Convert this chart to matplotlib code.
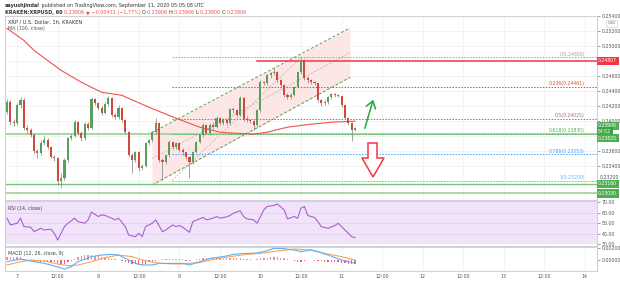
import matplotlib
matplotlib.use('Agg')
import matplotlib.pyplot as plt
from matplotlib.patches import Polygon
import matplotlib.transforms as mtransforms

# hourly candles, index 0 = Sep 6 21:00 UTC; open of each candle = previous close
first_open = 0.24117
closes = [0.2425, 0.23983, 0.2397, 0.2421, 0.24277, 0.23903, 0.23877, 0.2381, 0.23597, 0.2357,
          0.23703, 0.23743, 0.2365, 0.23517, 0.23503, 0.23197, 0.23237, 0.23477, 0.2377, 0.23797,
          0.23983, 0.23837, 0.2377, 0.23957, 0.23903, 0.2429, 0.24237, 0.2417, 0.24103, 0.24223,
          0.24303, 0.24077, 0.2405, 0.2417, 0.2401, 0.2385, 0.23543, 0.23477, 0.23583, 0.2337,
          0.23397, 0.23703, 0.23743, 0.2385, 0.2397, 0.23477, 0.2345, 0.23543, 0.23717, 0.2365,
          0.23703, 0.2361, 0.23583, 0.23517, 0.2345, 0.23583, 0.23717, 0.2381, 0.23943, 0.23837,
          0.23943, 0.23917, 0.24037, 0.2397, 0.2401, 0.2397, 0.24157, 0.24143, 0.24077, 0.24303,
          0.24023, 0.2401, 0.23997, 0.23943, 0.24143, 0.24517, 0.24503, 0.2461, 0.24637, 0.2465,
          0.24543, 0.24477, 0.24343, 0.24317, 0.24343, 0.2445, 0.2465, 0.2481, 0.2457, 0.24543,
          0.24517, 0.24503, 0.24277, 0.24237, 0.2425, 0.24317, 0.24357, 0.24343, 0.2433, 0.2421,
          0.24037, 0.2397, 0.23877, 0.23906]
highs = [0.2430, 0.2428, 0.2403, 0.2424, 0.2432, 0.2431, 0.2395, 0.2391, 0.2384, 0.2363,
         0.2374, 0.2380, 0.2377, 0.2367, 0.2355, 0.2352, 0.2330, 0.2350, 0.2379, 0.2383,
         0.2401, 0.2400, 0.2386, 0.2398, 0.2399, 0.2432, 0.2431, 0.2426, 0.2420, 0.2425,
         0.2434, 0.2432, 0.2411, 0.2421, 0.2419, 0.2403, 0.2387, 0.2357, 0.2360, 0.2360,
         0.2343, 0.2372, 0.2376, 0.2387, 0.2404, 0.2399, 0.2350, 0.2356, 0.2374, 0.2373,
         0.2372, 0.2372, 0.2364, 0.2360, 0.2353, 0.2360, 0.2373, 0.2383, 0.2397, 0.2396,
         0.2397, 0.2398, 0.2406, 0.2405, 0.2404, 0.2403, 0.2418, 0.2419, 0.2416, 0.2433,
         0.2432, 0.2407, 0.2403, 0.2401, 0.2416, 0.2455, 0.2454, 0.2463, 0.2466, 0.2471,
         0.2467, 0.2456, 0.2449, 0.2437, 0.2437, 0.2447, 0.2467, 0.2485, 0.2483, 0.2460,
         0.2456, 0.2453, 0.2451, 0.2429, 0.2428, 0.2434, 0.2437, 0.2437, 0.2436, 0.2434,
         0.2422, 0.2405, 0.2398, 0.2392]
lows = [0.2409, 0.2395, 0.2393, 0.2395, 0.2418, 0.2388, 0.2384, 0.2378, 0.2356, 0.2350,
        0.2355, 0.2368, 0.2362, 0.2350, 0.2347, 0.2315, 0.2310, 0.2321, 0.2345, 0.2375,
        0.2378, 0.2381, 0.2373, 0.2375, 0.2388, 0.2389, 0.2421, 0.2414, 0.2408, 0.2409,
        0.2420, 0.2405, 0.2402, 0.2403, 0.2398, 0.2382, 0.2352, 0.2330, 0.2345, 0.2333,
        0.2334, 0.2338, 0.2368, 0.2372, 0.2383, 0.2345, 0.2321, 0.2342, 0.2352, 0.2362,
        0.2363, 0.2358, 0.2355, 0.2349, 0.2324, 0.2343, 0.2357, 0.2370, 0.2379, 0.2382,
        0.2382, 0.2389, 0.2390, 0.2395, 0.2394, 0.2395, 0.2395, 0.2411, 0.2406, 0.2406,
        0.2400, 0.2399, 0.2397, 0.2388, 0.2392, 0.2412, 0.2448, 0.2448, 0.2458, 0.2461,
        0.2452, 0.2445, 0.2432, 0.2429, 0.2430, 0.2433, 0.2444, 0.2463, 0.2455, 0.2451,
        0.2449, 0.2448, 0.2426, 0.2420, 0.2421, 0.2423, 0.2430, 0.2432, 0.2432, 0.2419,
        0.2402, 0.2395, 0.2373, 0.2386]

# MA (100) read at some candles
ma_idx = [0, 5, 8, 16, 22, 28, 34, 42, 50, 57, 63, 67, 73, 77, 83, 90, 96, 103]
ma_val = [0.25237, 0.25077, 0.24943, 0.24677, 0.24517, 0.24383, 0.24343, 0.24183, 0.24037,
          0.23917, 0.2385, 0.23837, 0.23823, 0.2385, 0.23917, 0.23957, 0.23983, 0.23997]

rsi_idx = [0, 1, 3, 4, 5, 7, 8, 10, 11, 13, 14, 15, 17, 18, 20, 21, 23, 24, 25, 27, 28, 29,
           31, 32, 33, 35, 36, 38, 39, 40, 41, 43, 44, 46, 47, 49, 50, 51, 52, 54, 55, 57,
           58, 59, 61, 62, 63, 65, 66, 67, 69, 70, 71, 73, 74, 76, 77, 79, 80, 82, 83, 85,
           86, 87, 88, 89, 91, 92, 93, 95, 97, 98, 100, 102, 103]
rsi_val = [54.6, 48.2, 49.8, 54.6, 46.6, 46.0, 41.8, 45.0, 43.4, 44.1, 40.2, 33.8, 46.6, 49.8,
           54.6, 51.4, 49.8, 53.0, 60.4, 56.2, 57.8, 57.2, 54.6, 53.0, 54.6, 46.6, 38.6, 37.0,
           40.2, 37.0, 46.6, 49.8, 53.0, 41.8, 43.4, 48.2, 46.6, 47.6, 46.0, 41.2, 51.4, 54.0,
           55.3, 53.0, 54.6, 56.2, 54.6, 55.9, 57.2, 59.4, 61.7, 56.2, 54.0, 53.0, 49.8, 62.6,
           65.8, 66.8, 68.1, 62.6, 54.0, 56.2, 54.6, 64.2, 65.8, 57.2, 55.3, 51.4, 46.6, 45.0,
           47.6, 49.8, 43.4, 37.0, 36.1]

macd_idx = [0, 4, 7, 11, 13, 17, 19, 21, 25, 28, 31, 33, 36, 38, 40, 43, 45, 48, 52, 54, 57,
            60, 64, 67, 70, 73, 76, 79, 81, 85, 87, 90, 92, 95, 99, 101, 103]
macd_val = [-0.00028, 0.00017, -0.00017, -0.00056, -0.00083, -0.0015, -0.00111, -0.00028,
            0.00056, 0.00083, 0.00094, 0.00083, 0.0, -0.00056, -0.00083, -0.00083, -0.00056,
            -0.00056, -0.00056, -0.00083, -0.00028, 0.00028, 0.00056, 0.00094, 0.00111,
            0.00111, 0.00139, 0.00194, 0.00194, 0.00167, 0.00139, 0.00167, 0.00139, 0.00083,
            0.0, -0.00028, -0.00056]
sig_idx = [0, 4, 7, 11, 14, 18, 21, 25, 29, 33, 37, 40, 45, 51, 57, 61, 66, 71, 75, 80, 85,
           90, 94, 99, 103]
sig_val = [-0.00083, -0.00028, 0.0, -0.00017, -0.00056, -0.00094, -0.00083, -0.00028, 0.00039,
           0.00083, 0.00056, 0.0, -0.00056, -0.00067, -0.00044, 0.00011, 0.00056, 0.00094,
           0.00111, 0.0015, 0.00183, 0.00167, 0.00111, 0.00056, 0.0]
hist_val = [0.00055, 0.0005, 0.00048, 0.00046, 0.00045, 0.0002, 0.0, -0.00017, -0.0002, -0.00025,
            -0.0003, -0.0004, -0.0004, -0.0004, -0.0004, -0.0005, -0.0006, -0.0006, -0.0004, -0.0002,
            0.0002, 0.0005, 0.0007, 0.0008, 0.0008, 0.0008, 0.0007, 0.0006, 0.0005, 0.0005,
            0.0003, 0.0002, 0.0001, 0.0, -0.0002, -0.0003, -0.0005, -0.0006, -0.0007, -0.0008,
            -0.0008, -0.0006, -0.0004, -0.0003, -0.0001, 0.0, 0.0001, 0.0001, 0.0001, 0.0001,
            0.0001, 0.0001, 0.0001, -0.0001, -0.0002, 0.0, 0.0001, 0.0002, 0.0003, 0.0003,
            0.0003, 0.0003, 0.0003, 0.0003, 0.0002, 0.0003, 0.0004, 0.0004, 0.0003, 0.0003,
            0.0002, 0.0002, 0.0001, 0.0, 0.0001, 0.0003, 0.0003, 0.0004, 0.0005, 0.0005,
            0.0005, 0.0004, 0.0003, 0.0001, 0.0, -0.0002, -0.0003, -0.0003, -0.0001, 0.0,
            0.0, -0.0001, -0.0002, -0.0002, -0.0003, -0.0003, -0.0004, -0.0004, -0.0004, -0.0005,
            -0.0005, -0.0006, -0.0006, -0.0007]

time_pos = [3, 15, 27, 39, 51, 63, 75, 87, 99, 111, 123, 135, 147, 159, 171]
time_lab = ['7', '12:00', '8', '12:00', '9', '12:00', '10', '12:00', '11', '12:00',
            '12', '12:00', '13', '12:00', '14']
grid_prices = [0.232, 0.234, 0.236, 0.238, 0.240, 0.242, 0.244, 0.246, 0.248, 0.250, 0.252, 0.254]
label_prices = [0.234, 0.236, 0.240, 0.242, 0.244, 0.246, 0.250, 0.252, 0.254]

resistance = 0.24807
supports = [0.2382, 0.2316, 0.2303]
fib_high, fib_low = 0.2485, 0.2320
fib_ratios = [0, 0.236, 0.5, 0.618, 0.786, 1]
fib_colors = ['#9e9e9e', '#f44336', '#a0707a', '#4caf50', '#42a5f5', '#64b5f6']
chan_x = [42.9, 101.5]
chan_low = [0.23143, 0.24583]
chan_high = [0.23845, 0.25243]

last_price = 0.23906

W, H = 620, 282
fig = plt.figure(figsize=(W / 100, H / 100), dpi=100)


def rect(l, t, r, b):
    return [l / W, 1 - b / H, (r - l) / W, (b - t) / H]


def fpx(x, y):
    return (x / W, 1 - y / H)


XMIN, XMAX = -0.6, 174.6
ax = fig.add_axes(rect(5, 15.9, 597, 200))
ax_rsi = fig.add_axes(rect(5, 201, 597, 245.5))
ax_macd = fig.add_axes(rect(5, 246.5, 597, 271))

for a in (ax, ax_rsi, ax_macd):
    a.set_xlim(XMIN, XMAX)
    for s in a.spines.values():
        s.set_color('#cfd2d8')
        s.set_linewidth(0.8)
    a.yaxis.tick_right()
    a.tick_params(axis='y', labelsize=3.4, colors='#555555', length=2, width=0.4, pad=1.5)
    a.tick_params(axis='x', length=0)
    for p in time_pos:
        a.axvline(p, color='#eeeeee', lw=0.5, zorder=0)
    a.set_xticks([])

# ---- main price panel
ax.set_ylim(0.22943, 0.25405)
ax.set_yticks(label_prices)
ax.set_yticklabels(['%.5f' % v for v in label_prices])
for v in grid_prices:
    ax.axhline(v, color='#eeeeee', lw=0.5, zorder=0)

# channel
ax.fill_between(chan_x, chan_low, chan_high, color='#fde6e6', zorder=1, lw=0)
ax.plot(chan_x, chan_low, color='#5e9e4e', lw=0.7, ls=(0, (3, 2)), zorder=2)
ax.plot(chan_x, chan_high, color='#5e9e4e', lw=0.7, ls=(0, (3, 2)), zorder=2)
ax.plot(chan_x, [(a + b) / 2 for a, b in zip(chan_low, chan_high)], color='#b0b0b0', lw=0.5,
        ls=(0, (3, 2)), zorder=2)

# support lines
ax.axhline(supports[0], color='#a8d8a8', lw=1.5, zorder=2)
ax.axhline(supports[1], color='#7cc47c', lw=1.0, zorder=2)
ax.axhline(supports[2], color='#a8d8a8', lw=1.4, zorder=2)

# fib retracement
fib_start = 48.8
for r, c in zip(fib_ratios, fib_colors):
    lvl = fib_high - r * (fib_high - fib_low)
    ax.plot([fib_start, XMAX], [lvl, lvl], color=c, lw=0.7, ls=(0, (1.5, 1.5)), zorder=2)
    ax.text(171, lvl + 0.00008, '%g(%.5f)' % (r, lvl), color=c, fontsize=3.3, ha='right',
            va='bottom', zorder=3)
ax.plot([fib_start, 87], [fib_low, fib_high], color='#b5b5b5', lw=0.5, ls=(0, (3, 2)), zorder=2)

# resistance
ax.plot([74, XMAX], [resistance, resistance], color='#f23645', lw=1.1, zorder=3)

# MA
ax.plot(ma_idx, ma_val, color='#f0524f', lw=0.8, zorder=4)

# candles
opens = [first_open] + closes[:-1]
for i, (o, c, h, l) in enumerate(zip(opens, closes, highs, lows)):
    col = '#5a9e5c' if c >= o else '#cf4a3c'
    ax.vlines(i, l, h, color='#6e6e6e', lw=0.45, zorder=5)
    ax.bar(i, max(abs(c - o), 0.00004), bottom=min(o, c), width=0.62, color=col, lw=0,
           zorder=6)

# price boxes on the axis
btf = mtransforms.blended_transform_factory(ax.transAxes, ax.transData)


def box(y, txt, fc, dy=0.0):
    ax.text(1.002, y + dy, txt, transform=btf, fontsize=3.3, color='white', ha='left',
            va='center', bbox=dict(boxstyle='square,pad=0.35', fc=fc, ec='none'), zorder=10,
            clip_on=False)


box(resistance, '%.5f' % resistance, '#f23645')
box(last_price, '%.5f' % last_price, '#4caf50', 0.00031)
box(last_price, '54:52', '#43a047', -0.00043)
box(supports[0], '%.5f' % supports[0], '#4caf50', -0.00050)
box(supports[1], '%.5f' % supports[1], '#4caf50')
box(supports[2], '%.5f' % supports[2], '#4caf50')
# 0.23200 label nudged above the support box, as on the source axis
ax.text(1.004, 0.23245, '0.23200', transform=btf, fontsize=3.4, color='#555555', ha='left',
        va='center', clip_on=False)
ax.text(1.018, 0.25305, 'USD', transform=btf, fontsize=2.8, color='#666666', ha='left',
        va='center', bbox=dict(boxstyle='square,pad=0.3', fc='white', ec='#cccccc', lw=0.4),
        clip_on=False)

ax.text(3 / 592, 1 - 6.5 / 184, 'XRP / U.S. Dollar, 1h, KRAKEN', transform=ax.transAxes,
        fontsize=3.6, color='#333333', va='center', zorder=11)
ax.text(3 / 592, 1 - 12.5 / 184, 'MA (100, close)', transform=ax.transAxes, fontsize=3.4,
        color='#555555', va='center', zorder=11)

# ---- RSI
ax_rsi.set_ylim(28.6, 71.0)
ax_rsi.axhspan(30, 70, color='#f1e3fa', zorder=0, lw=0)
for v in (40, 50, 60):
    ax_rsi.axhline(v, color='#e0cdec', lw=0.5, zorder=1)
ax_rsi.set_yticks([30, 40, 50, 60, 70])
ax_rsi.set_yticklabels(['%.2f' % v for v in [30, 40, 50, 60, 70]])
ax_rsi.plot(rsi_idx, rsi_val, color='#a862cf', lw=0.8, zorder=3)
ax_rsi.text(3 / 592, 0.84, 'RSI (14, close)', transform=ax_rsi.transAxes, fontsize=3.4,
            color='#444444', va='center')

# ---- MACD
ax_macd.set_ylim(-0.00183, 0.00225)
ax_macd.set_yticks([0.0, 0.002])
ax_macd.set_yticklabels(['0.00000', '0.00200'])
hist_x = list(range(len(hist_val)))
ax_macd.bar(hist_x, hist_val, width=0.4,
            color=['#f48aa9' if v >= 0 else '#ee5f84' for v in hist_val], lw=0, zorder=2)
ax_macd.plot(sig_idx, sig_val, color='#f5a65b', lw=0.8, zorder=3)
ax_macd.plot(macd_idx, macd_val, color='#5fb0f0', lw=0.8, zorder=4)
ax_macd.text(3 / 592, 0.72, 'MACD (12, 26, close, 9)', transform=ax_macd.transAxes,
             fontsize=3.4, color='#444444', va='center')
ax_macd.set_xticks(time_pos)
ax_macd.set_xticklabels(time_lab)
ax_macd.tick_params(axis='x', labelsize=3.4, colors='#555555', length=0, pad=2.5)

# ---- drawings: arrows
ax.annotate('', xy=fpx(374, 97), xytext=fpx(364, 131), xycoords='figure fraction',
            textcoords='figure fraction',
            arrowprops=dict(arrowstyle='->,head_length=0.5,head_width=0.35', color='#22a843',
                            lw=1.1), zorder=12)
red_arrow = [(368, 143), (377, 143), (377, 158), (384, 158), (373, 177), (362, 158), (368, 158)]
fig.patches.append(Polygon([fpx(x, y) for x, y in red_arrow], closed=True, fc='white',
                           ec='#f23645', lw=1.1, transform=fig.transFigure, zorder=12))

# ---- header
rend = fig.canvas.get_renderer()


def row(x_px, y_px, pieces, size):
    x = x_px
    for txt, col, bold in pieces:
        t = fig.text(x / W, 1 - y_px / H, txt, color=col, fontsize=size,
                     fontweight='bold' if bold else 'normal', va='center', ha='left')
        x += t.get_window_extent(renderer=rend).width


dark, red = '#333333', '#ef5350'
row(5, 5, [('aayushjindal', dark, True),
           (' published on TradingView.com, September 11, 2020 05:05:08 UTC', dark, False)], 3.5)
row(5, 12.5, [('KRAKEN:XRPUSD, 60 ', dark, True), ('0.23906 ', red, False), ('▼', red, False),
              (' −0.00431 (−1.77%) ', red, False), ('O:', dark, False), ('0.23906 ', red, False),
              ('H:', dark, False), ('0.23906 ', red, False), ('L:', dark, False),
              ('0.23900 ', red, False), ('C:', dark, False), ('0.23906', red, False)], 3.5)

fig.savefig('out.png', dpi=100)
